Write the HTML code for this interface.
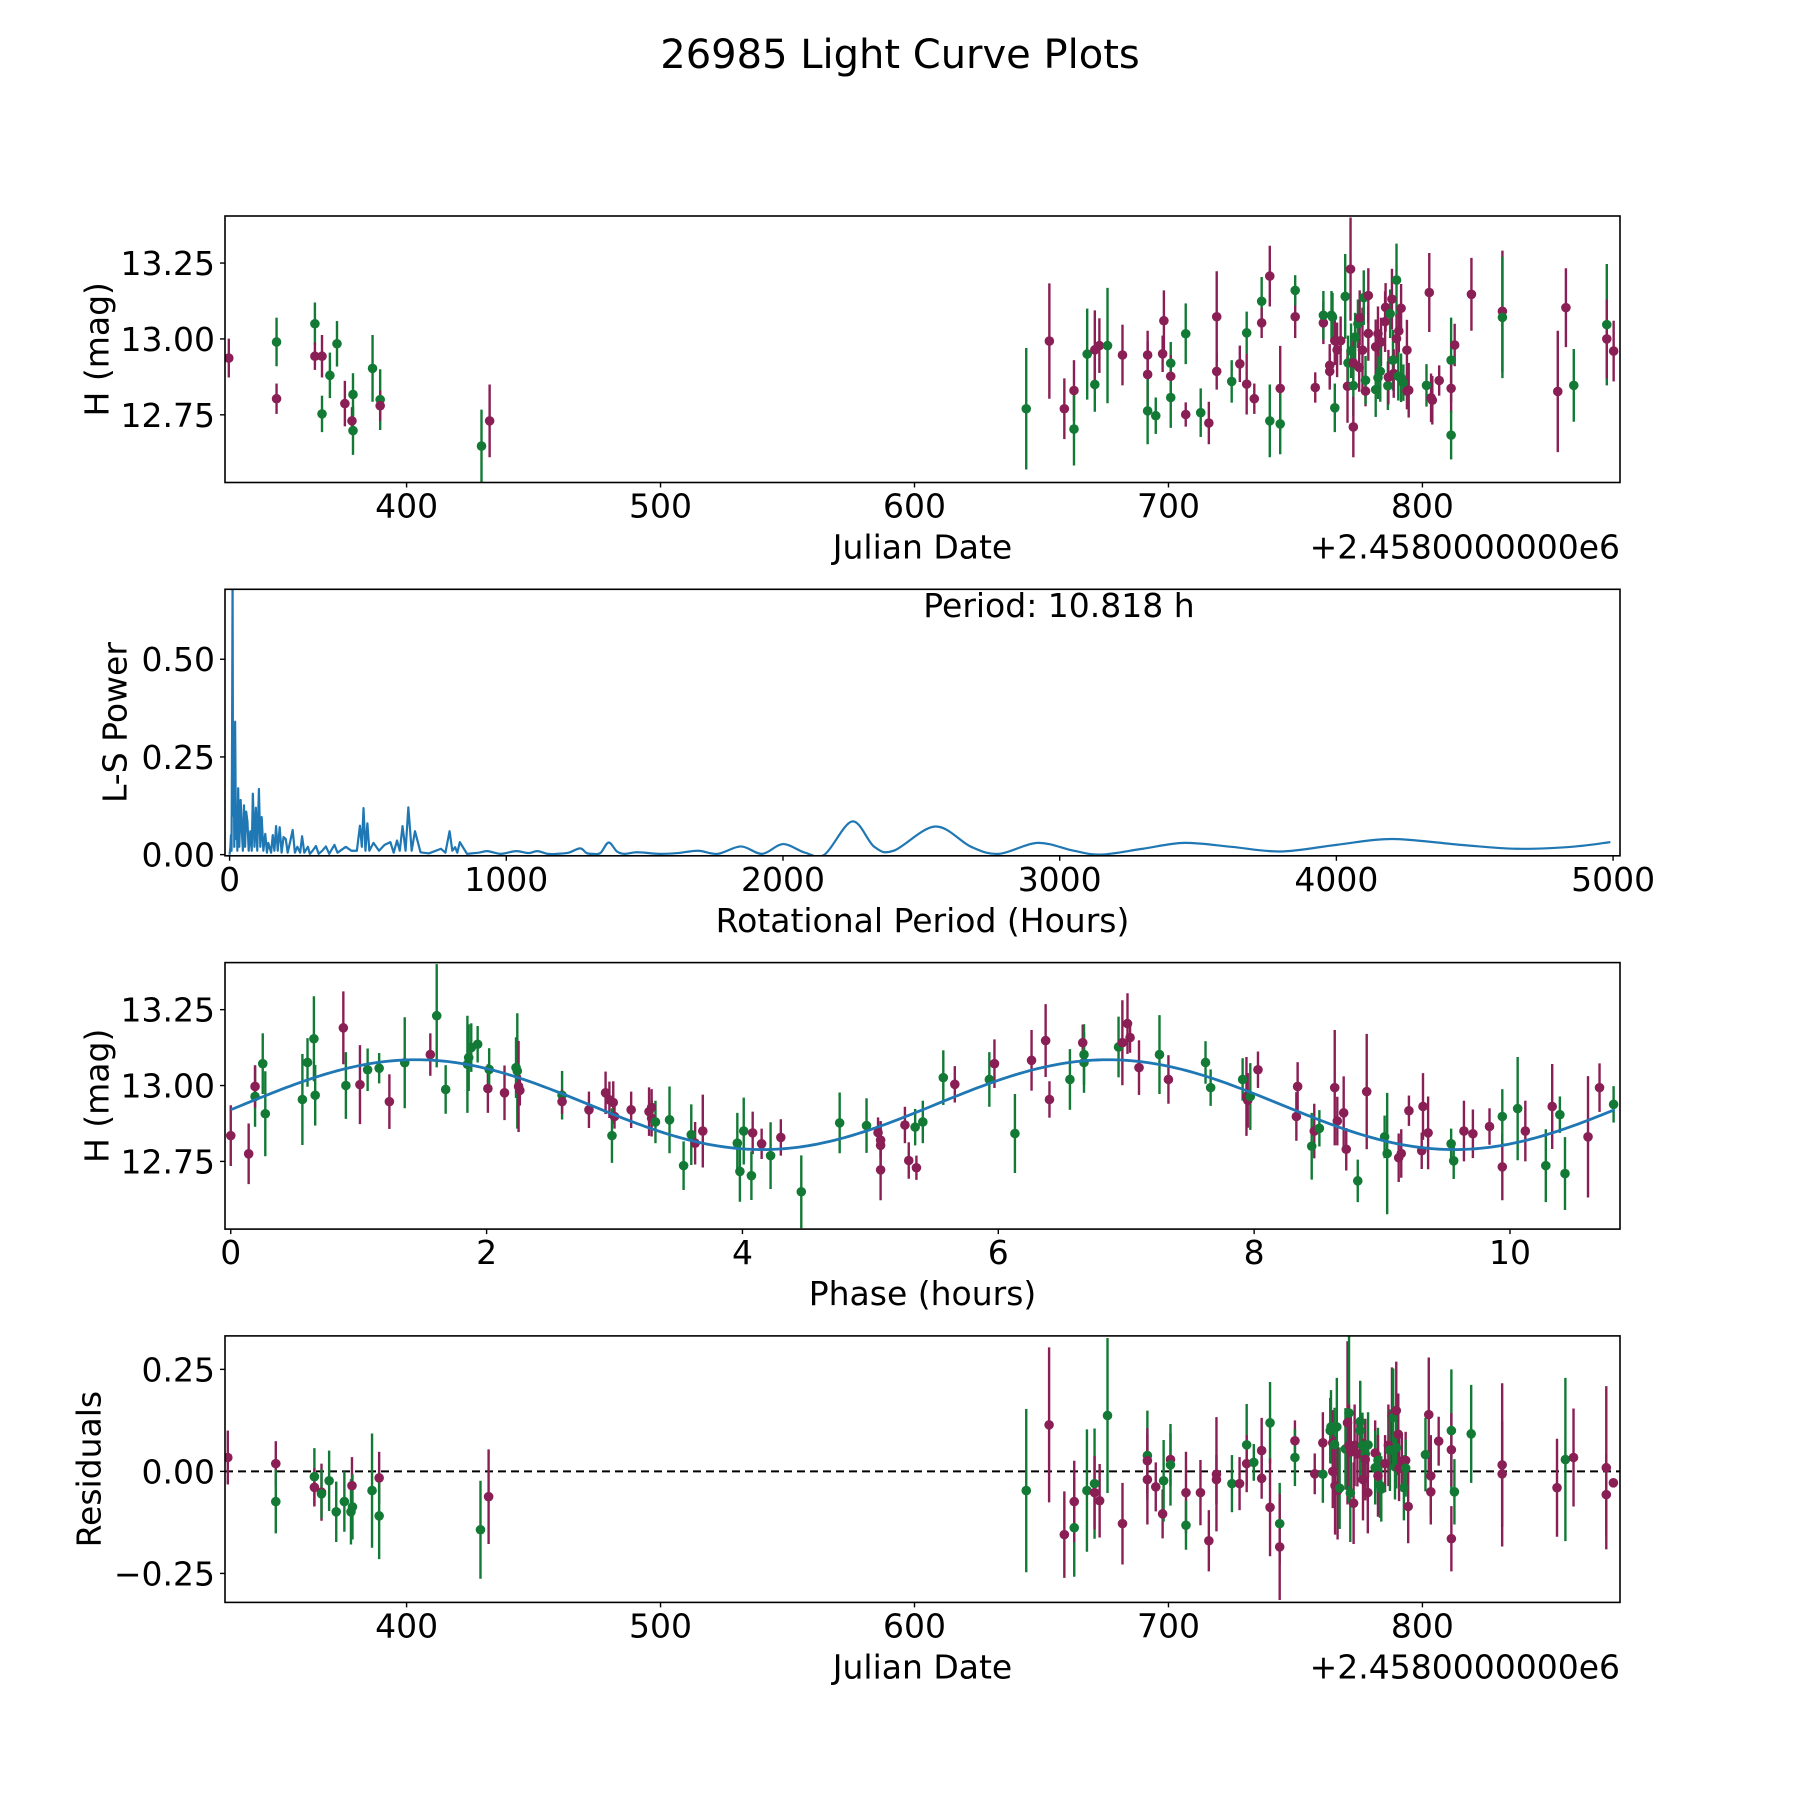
<!DOCTYPE html>
<html><head><meta charset="utf-8">
<style>
html,body{margin:0;padding:0;background:#fff;}
svg{display:block;font-family:"DejaVu Sans","Liberation Sans",sans-serif;}
</style></head>
<body>
<svg id="fig" xmlns="http://www.w3.org/2000/svg" width="1800" height="1800" viewBox="0 0 1800 1800">
<rect x="0" y="0" width="1800" height="1800" fill="#fff"/>
<text x="900" y="68" font-size="40" text-anchor="middle" fill="#000">26985 Light Curve Plots</text>
</svg>
<script>
// ---------- Panel 1: light curve vs Julian Date ----------
const lcJd = [330,348.8,348.8,363.9,363.9,366.7,366.7,372.6,369.8,375.7,378.9,378.5,378.9,386.6,389.6,389.6,429.5,432.7,
644,653.1,659,662.8,662.8,668,671,671,672.8,676,681.9,691.8,691.8,691.8,695,697.7,698.2,700.9,700.9,700.9,706.8,706.8,712.7,715.9,719,719,724.9,728.1,730.8,730.8,733.8,736.7,736.7,739.9,739.9,744,744,749.9,749.9,757.8,761,761,763.5,763.5,764.2,764.6,765.5,766.4,765.5,767.8,769.6,770.5,770.7,771.7,771.9,772.8,772.8,772.8,773.5,774.6,775.3,775.1,776.4,776.9,777.6,777.6,778.7,778.7,781.6,781.6,782.5,782.5,783.7,783.4,785.3,785.5,786.4,786.6,787.3,788,788.4,788.7,789.8,789.8,790.5,790.7,791.6,791.6,792.5,793.9,793.9,794.6,801.6,803.4,803.9,802.7,806.6,811.3,811.3,811.3,812.7,819.3,831.5,831.5,853.3,856.5,859.6,872.6,872.6,875.3];
const lcMag = [12.937,12.99,12.803,13.05,12.943,12.943,12.753,12.984,12.88,12.787,12.817,12.73,12.698,12.903,12.8,12.78,12.647,12.73,
12.77,12.993,12.77,12.83,12.703,12.95,12.85,12.964,12.978,12.978,12.947,12.947,12.883,12.763,12.747,12.951,13.06,12.92,12.877,12.807,13.017,12.751,12.757,12.723,13.073,12.893,12.86,12.918,13.02,12.851,12.803,13.124,13.053,13.207,12.73,12.837,12.72,13.073,13.16,12.84,13.053,13.078,12.913,12.893,13.078,13.072,12.773,12.964,12.994,12.994,13.14,12.844,12.921,13.23,12.961,12.921,12.846,12.71,13.006,13.05,13.07,12.906,12.963,13.136,12.828,12.864,13.143,13.018,12.833,12.974,13.017,12.872,12.99,12.893,13.057,13.104,12.846,12.874,13.083,13.131,12.93,12.886,13.194,13.001,12.877,13.026,13.101,12.872,12.856,12.963,12.828,12.831,12.847,12.806,12.798,13.153,12.863,12.93,12.837,12.683,12.98,13.147,13.091,13.071,12.827,13.103,12.847,13.047,13.0,12.96];
const lcErr = [.064,.08,.05,.07,.045,.07,.06,.075,.075,.075,.07,.045,.08,.11,.1,.05,.12,.12,
.2,.19,.1,.1,.12,.15,.09,.13,.09,.19,.1,.08,.11,.11,.06,.06,.1,.07,.07,.1,.1,.04,.08,.07,.15,.06,.07,.06,.07,.1,.05,.08,.05,.1,.12,.14,.1,.07,.05,.05,.07,.08,.07,.06,.08,.08,.08,.09,.08,.08,.14,.12,.09,.17,.09,.08,.1,.1,.08,.08,.09,.08,.14,.09,.05,.08,.09,.09,.09,.09,.09,.07,.08,.1,.1,.08,.08,.09,.08,.1,.1,.08,.12,.08,.08,.07,.08,.08,.06,.1,.06,.09,.07,.08,.08,.13,.05,.14,.08,.08,.07,.12,.2,.2,.2,.13,.12,.2,.13,.1];
const lcCol = "mgmgmmgggmgmgggmgm"+"gmmmgggmmgmmmggmmgmggmgmmmgmgmmgmmgmgmgmmgmmgggmmmgmgmgmgmggmmmgmgmmgmmgmgmmgmgmgmgmgmmggmmmgmmmmgmgmmmgmmggmmgmm";

// ---------- Panel 2: Lomb-Scargle periodogram ----------
const lsPeriod = [0,3,5,7,9,10.8,12.5,15,17,20,23,26,28,31,35,40,45,48,52,56,60,64.5,69,75,80,84,90,95,100,106,111,116,122,129,135,140,150,156,162,168,174,181,188,195,203,210,218,228,236,245,255,262,270,283,290,300,312,322,335,348,360,379,390,420,440,460,471,478,484,491,498,505,520,540,560,581,593,605,615,625,636,646,658,670,690,720,764,780,795,805,815,823,832,858,900,932,980,1035,1080,1112,1150,1183,1225,1267,1290,1312,1340,1370,1400,1428,1474,1551,1620,1693,1764,1848,1925,2000,2080,2150,2250,2330,2400,2550,2680,2780,2920,3050,3150,3300,3450,3620,3800,4000,4200,4450,4650,4850,4990];
const lsPower = [0,.02,.05,.01,.3,.72,.1,.25,.02,.34,.04,.12,.01,.17,.02,.14,.05,.01,.126,.02,.11,.085,.01,.06,.01,.156,.02,.12,.01,.168,.02,.096,.01,.053,.005,.03,.005,.05,.01,.073,.01,.07,.005,.045,.04,.005,.03,.063,.005,.02,.005,.047,.005,.02,.002,.01,.022,.002,.01,.021,.002,.025,.005,.02,.01,.01,.074,.02,.119,.01,.08,.01,.03,.01,.025,.032,.005,.036,.01,.073,.01,.121,.01,.06,.006,.003,.015,.005,.06,.01,.019,.005,.032,.002,.005,.009,.002,.009,.004,.009,.002,.002,.005,.016,.004,.002,.004,.031,.008,.002,.006,.002,.004,.01,.002,.021,.002,.027,.005,.0,.085,.02,.01,.072,.02,.002,.03,.01,.0,.015,.03,.02,.008,.025,.04,.025,.015,.02,.032];
const lsTicks = [0,1000,2000,3000,4000,5000];

// ---------- Panel 3: phase-folded curve ----------
const phX = [0.0,0.14,0.19,0.19,0.25,0.27,0.56,0.60,0.65,0.66,0.88,0.90,1.01,1.07,1.16,1.24,1.36,1.56,1.61,1.68,1.85,1.86,1.88,1.93,2.01,2.02,2.14,2.23,2.24,2.25,2.26,2.59,2.59,2.80,2.93,2.96,2.99,3.0,2.98,3.13,3.27,3.29,3.29,3.32,3.43,3.54,3.60,3.63,3.69,3.96,3.98,4.01,4.08,4.07,4.15,4.22,4.30,4.46,4.76,4.97,5.06,5.08,5.08,5.08,5.27,5.30,5.36,5.35,5.41,
5.57,5.66,5.93,5.97,6.13,6.26,6.37,6.40,6.56,6.66,6.67,6.67,6.94,6.97,7.01,7.03,7.10,7.26,7.33,7.62,7.66,7.91,7.94,7.95,7.97,8.03,8.33,8.34,8.45,8.47,8.51,8.63,8.65,8.70,8.72,8.81,8.88,9.02,9.04,9.13,9.15,9.21,9.31,9.32,9.36,9.54,9.56,9.64,9.71,9.84,9.94,9.94,10.06,10.12,10.28,10.33,10.39,10.43,10.61,10.70,10.81];
const phMag = [12.835,12.775,12.964,12.997,13.072,12.907,12.954,13.076,13.154,12.968,13.19,13.0,13.003,13.052,13.057,12.947,13.075,13.102,13.23,12.987,13.07,13.092,13.125,13.136,12.99,13.053,12.976,13.059,13.048,12.997,12.984,12.968,12.947,12.92,12.976,12.953,12.944,12.898,12.835,12.92,12.914,12.928,12.892,12.88,12.887,12.736,12.838,12.81,12.85,12.81,12.717,12.85,12.844,12.703,12.808,12.769,12.829,12.65,12.877,12.868,12.845,12.803,12.82,12.722,12.87,12.753,12.729,12.863,12.88,
13.026,13.004,13.02,13.072,12.842,13.083,13.148,12.954,13.02,13.141,13.102,13.076,13.127,13.141,13.204,13.158,13.059,13.102,13.02,13.076,12.993,13.02,12.964,12.951,12.964,13.052,12.898,12.997,12.8,12.85,12.859,12.993,12.883,12.91,12.79,12.686,12.98,12.831,12.776,12.762,12.776,12.917,12.785,12.931,12.844,12.808,12.752,12.85,12.841,12.865,12.732,12.898,12.924,12.85,12.736,12.931,12.904,12.71,12.831,12.993,12.938];
const phErr = [.1,.1,.1,.07,.1,.14,.15,.08,.14,.1,.12,.11,.13,.07,.05,.09,.15,.07,.17,.08,.16,.11,.08,.06,.08,.07,.09,.1,.19,.15,.05,.08,.04,.06,.07,.06,.07,.04,.09,.06,.08,.06,.06,.07,.11,.08,.1,.07,.12,.1,.1,.11,.07,.08,.05,.11,.06,.12,.1,.09,.05,.08,.06,.1,.06,.06,.04,.06,.07,
.09,.06,.09,.08,.13,.1,.12,.06,.1,.06,.1,.1,.1,.14,.1,.05,.09,.13,.08,.07,.06,.07,.13,.09,.11,.06,.08,.08,.11,.09,.06,.19,.08,.12,.07,.07,.19,.07,.2,.08,.08,.05,.06,.11,.12,.05,.06,.1,.08,.06,.11,.09,.17,.1,.12,.14,.06,.12,.2,.08,.06];
const phCol = "mmgmggggggmgmggmgmggggggmgmggmmgmmmmmmgmmmmggggmmgggmgmgmgggmmmmmmmgg"+"gmgmgmmmgmgggmmmmgmgggmmgmmmgmgmmmmgmggmmmmmmggmmmmggmgmggmmgmmgmmmm";
const fitMean = [12.937];
const fitAmp = [0.148];
const fitPeak = [1.45];
const fitPeriod = [10.818];

// ---------- Panel 4: residuals ----------
const rsJd = [329.6,348.5,348.5,363.7,363.7,366.5,366.5,369.5,372.3,375.5,378.5,378.7,378.1,386.4,389.2,389.2,429.1,432.3,
644,653,659,662.9,662.9,667.9,670.9,670.9,672.9,676,681.9,691.7,691.7,691.7,695,697.7,698.1,700.8,700.8,706.9,706.9,712.6,715.9,718.9,718.9,725,728,730.8,730.8,733.6,736.7,736.7,740,740,743.8,743.8,749.8,749.8,757.6,760.8,760.8,
763.7,764,764.7,764.7,765.4,765.6,766.3,766.6,767.4,770.5,771.1,769.7,771.1,771.8,772.9,771.6,773.3,774.4,775.5,775.5,776.4,776.6,777.5,777.5,778.6,778.5,781.4,781.4,782.5,782.5,783.3,783.8,785.3,786.6,787.2,788,788.5,789.7,789.7,790.5,789.2,790.8,791.9,793.4,793.4,792.7,794.4,801.2,802.5,803.3,803.3,806.4,811.4,811.4,811.4,812.6,819.2,831.4,831.4,853,856.3,859.5,872.4,872.4,875.2];
const rsVal = [.034,.019,-.074,-.013,-.039,-.051,-.055,-.023,-.099,-.074,-.035,-.087,-.099,-.047,-.016,-.109,-.143,-.062,
-.047,.114,-.155,-.138,-.074,-.047,-.03,-.052,-.072,.137,-.128,.039,.026,-.02,-.038,-.104,-.023,.029,.016,-.052,-.132,-.052,-.17,-.007,-.02,-.03,-.03,.065,.019,.022,.051,-.017,.119,-.088,-.128,-.185,.075,.034,-.006,-.007,.07,
.1,.109,.07,0,.066,-.035,.109,-.047,-.041,.119,.143,.055,.064,.048,-.078,-.053,.064,.043,.1,.122,.064,-.02,.043,.029,.065,-.052,.045,.009,.027,-.011,-.034,-.043,.019,.064,.052,.135,.132,.149,.058,.091,.011,.007,.025,.027,.008,-.04,-.086,.041,.139,-.011,-.05,.074,.1,.053,-.165,-.05,.092,.016,-.006,-.04,.029,.034,.009,-.057,-.028];
const rsErr = [.066,.055,.078,.07,.047,.07,.06,.074,.074,.074,.07,.08,.08,.14,.064,.106,.12,.116,
.2,.19,.106,.12,.1,.15,.135,.09,.09,.19,.1,.11,.08,.11,.06,.06,.1,.065,.1,.1,.06,.08,.075,.14,.06,.07,.065,.1,.07,.045,.08,.05,.1,.12,.1,.13,.05,.07,.05,.07,.075,
.08,.09,.08,.09,.09,.12,.12,.12,.1,.2,.22,.1,.1,.1,.1,.12,.1,.08,.12,.1,.08,.1,.08,.1,.08,.1,.08,.09,.08,.1,.08,.08,.07,.1,.1,.12,.12,.12,.1,.1,.08,.08,.07,.07,.07,.08,.09,.09,.14,.1,.08,.06,.15,.09,.08,.08,.12,.2,.13,.12,.2,.12,.2,.1];
const rsCol = "mmggmmggggmgggmggm"+"gmmgmggmmgmgmmmmgmgmgmmmmgmgmgmmgmgmmgmgmg"+"gmmgmgmgmggmmmgmmgggmgmgmmggmggmmgmgmgmgmmmggmgmmmmgmmggmmmgmm";

const jdTicks = [400,500,600,700,800];
const magTicks = [12.75,13.00,13.25];
const phTicks = [0,2,4,6,8,10];
const lsYTicks = [0.00,0.25,0.50];
const rsTicks = [-0.25,0.00,0.25];

// ---------- rendering ----------
const NS = "http://www.w3.org/2000/svg";
const svg = document.getElementById('fig');
const AX_L = 225, AX_R = 1620, AX_H = 266.5;
const TOPS = [216, 589.3, 962.6, 1335.9];
const FS = 33;
const COLORS = {m:'#8a1f55', g:'#127a35'};
function mk(tag, attrs, parent){
  const e = document.createElementNS(NS, tag);
  for (const k in attrs) e.setAttribute(k, attrs[k]);
  (parent||svg).appendChild(e);
  return e;
}
function scale(d0,d1,p0,p1){ return v => p0 + (v-d0)*(p1-p0)/(d1-d0); }

function makeAxes(i, xlim, ylim, name){
  const top = TOPS[i], bot = top + AX_H;
  const g = mk('g', {});
  
  
  const cid = 'clip'+i;
  const cp = mk('clipPath', {id: cid}, g);
  mk('rect', {x:AX_L, y:top, width:AX_R-AX_L, height:AX_H}, cp);
  const plot = mk('g', {'clip-path':'url(#'+cid+')'}, g);
  
  
  return {g, plot, top, bot, x: scale(xlim[0],xlim[1],AX_L,AX_R), y: scale(ylim[0],ylim[1],bot,top)};
}
function frame(ax){
  const r = mk('rect', {x:AX_L, y:ax.top, width:AX_R-AX_L, height:AX_H, fill:'none', stroke:'#000', 'stroke-width':1.6}, ax.g);
  
  
}
function xTicks(ax, ticks, fmt){
  ticks.forEach(t => {
    const px = ax.x(t);
    mk('line', {x1:px, x2:px, y1:ax.bot, y2:ax.bot+5, stroke:'#000', 'stroke-width':1.4}, ax.g);
    const tx = mk('text', {x:px, y:ax.bot+35, 'font-size':FS, 'text-anchor':'middle'}, ax.g);
    
    
    tx.textContent = fmt(t);
  });
}
function yTicks(ax, ticks, fmt){
  ticks.forEach(t => {
    const py = ax.y(t);
    mk('line', {x1:AX_L-5, x2:AX_L, y1:py, y2:py, stroke:'#000', 'stroke-width':1.4}, ax.g);
    const tx = mk('text', {x:AX_L-10, y:py+12, 'font-size':FS, 'text-anchor':'end'}, ax.g);
    
    
    tx.textContent = fmt(t);
  });
}
function label(ax, xText, yText, yx, offset){
  const xl = mk('text', {x:(AX_L+AX_R)/2, y:ax.bot+76, 'font-size':FS, 'text-anchor':'middle'}, ax.g);
  
  
  xl.textContent = xText;
  const cy = ax.top + AX_H/2;
  const yl = mk('text', {x:yx, y:cy, 'font-size':FS, 'text-anchor':'middle', transform:'rotate(-90 '+yx+' '+cy+')', 'dominant-baseline':'central'}, ax.g);
  
  
  yl.textContent = yText;
  if (offset){
    const ot = mk('text', {x:AX_R, y:ax.bot+76, 'font-size':FS, 'text-anchor':'end'}, ax.g);
    
    
    ot.textContent = offset;
  }
}
function errPoints(ax, xs, ys, es, cols, nm){
  for (let i=0;i<xs.length;i++){
    const c = COLORS[cols[i]] || COLORS.m;
    const px = ax.x(xs[i]);
    const l = mk('line', {x1:px, x2:px, y1:ax.y(ys[i]-es[i]), y2:ax.y(ys[i]+es[i]), stroke:c, 'stroke-width':2.4}, ax.plot);
    
    
  }
  for (let i=0;i<xs.length;i++){
    const c = COLORS[cols[i]] || COLORS.m;
    const d = mk('circle', {cx:ax.x(xs[i]), cy:ax.y(ys[i]), r:4.8, fill:c}, ax.plot);
    
    
  }
}
const f2 = t => t.toFixed(2);
const f0 = t => String(t);

// Panel 1
const a1 = makeAxes(0, [328.5,877.8], [12.527,13.405], 'light-curve-axes');
errPoints(a1, lcJd, lcMag, lcErr, lcCol, 'magnitude');
frame(a1); xTicks(a1, jdTicks, f0); yTicks(a1, magTicks, f2);
label(a1, 'Julian Date', 'H (mag)', 97, '+2.4580000000e6');

// Panel 2
const a2 = makeAxes(1, [-16.6,5025], [-0.003,0.679], 'periodogram-axes');
{
  const pts = lsPeriod.map((p,i)=>[a2.x(p), a2.y(lsPower[i])]);
  let d = 'M'+pts[0][0]+','+pts[0][1];
  for (let i=0;i<pts.length-1;i++){
    const p0 = pts[Math.max(0,i-1)], p1 = pts[i], p2 = pts[i+1], p3 = pts[Math.min(pts.length-1,i+2)];
    if (lsPeriod[i] < 860){ d += ' L'+p2[0]+','+p2[1]; continue; }
    const c1x = p1[0]+(p2[0]-p0[0])/6, c1y = p1[1]+(p2[1]-p0[1])/6;
    const c2x = p2[0]-(p3[0]-p1[0])/6, c2y = p2[1]-(p3[1]-p1[1])/6;
    d += ' C'+c1x+','+c1y+' '+c2x+','+c2y+' '+p2[0]+','+p2[1];
  }
  const ln = mk('path', {d, fill:'none', stroke:'#1f77b4', 'stroke-width':2.2, 'stroke-linejoin':'round'}, a2.plot);
  
  
}
frame(a2); xTicks(a2, lsTicks, f0); yTicks(a2, lsYTicks, f2);
label(a2, 'Rotational Period (Hours)', 'L-S Power', 115, null);
{
  const pt = mk('text', {x:1059, y:617, 'font-size':FS, 'text-anchor':'middle'}, a2.g);
  
  
  pt.textContent = 'Period: 10.818 h';
}

// Panel 3
const a3 = makeAxes(2, [-0.045,10.86], [12.527,13.405], 'phase-axes');
errPoints(a3, phX, phMag, phErr, phCol, 'phase');
{
  let d = '';
  const N = 300;
  for (let k=0;k<=N;k++){
    const ph = fitPeriod[0]*k/N;
    const m = fitMean[0] + fitAmp[0]*Math.cos(4*Math.PI*(ph-fitPeak[0])/fitPeriod[0]);
    d += (k?' L':'M') + a3.x(ph) + ',' + a3.y(m);
  }
  const fl = mk('path', {d, fill:'none', stroke:'#1f77b4', 'stroke-width':2.8}, a3.plot);
  
  
}
frame(a3); xTicks(a3, phTicks, f0); yTicks(a3, magTicks, f2);
label(a3, 'Phase (hours)', 'H (mag)', 97, null);

// Panel 4
const a4 = makeAxes(3, [328.5,877.8], [-0.321,0.332], 'residuals-axes');
{
  const zl = mk('line', {x1:AX_L, x2:AX_R, y1:a4.y(0), y2:a4.y(0), stroke:'#000', 'stroke-width':2, 'stroke-dasharray':'8,5'}, a4.plot);
  
  
}
errPoints(a4, rsJd, rsVal, rsErr, rsCol, 'residual');
frame(a4); xTicks(a4, jdTicks, f0); yTicks(a4, rsTicks, t => (t<0?'\u2212':'') + Math.abs(t).toFixed(2));
label(a4, 'Julian Date', 'Residuals', 89, '+2.4580000000e6');
</script>
</body></html>
